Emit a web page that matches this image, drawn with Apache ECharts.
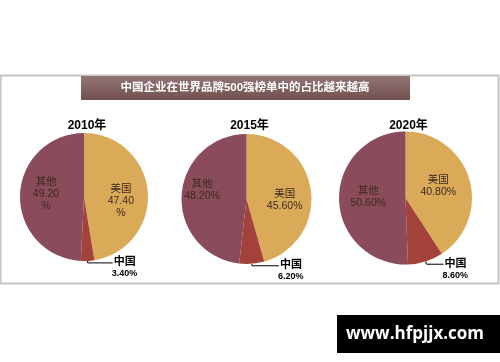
<!DOCTYPE html>
<html><head><meta charset="utf-8">
<script src="https://cdn.jsdelivr.net/npm/echarts@6/dist/echarts.min.js"></script>
<style>html,body{margin:0;padding:0;background:#fff}#c{width:500px;height:362px}</style>
</head><body><div id="c"></div>
<script>
const chartTitle = '中国企业在世界品牌500强榜单中的占比越来越高';
const years = ['2010年', '2015年', '2020年'];
const categories = ['美国', '中国', '其他'];
const usShare = [47.40, 45.60, 40.80];
const chinaShare = [3.40, 6.20, 8.60];
const otherShare = [49.20, 48.20, 50.60];
const watermark = 'www.hfpjjx.com';

const FONT = '"Liberation Sans", Arial, "Noto Sans CJK SC", sans-serif';
const colors = ['#DBAA58', '#A3423A', '#8A4B5B'];
const centers = [[84, 197], [246.5, 199], [405.5, 198]];
const radii = [64, 65, 66.5];
const leader = [[2, 25], [2, 27], [3, 17]];
// label nudges [US, China, Others] per pie
const nudges = [
  [[2, 7], [0, 0], [-3, -2]],
  [[3, 6], [0, 0], [-9, -7]],
  [[-2, -2], [0, 0], [-1, -2]]
];

const chart = echarts.init(document.getElementById('c'), null, {renderer: 'canvas'});

const series = years.map((y, i) => {
  const wrapPct = i === 0;
  const vals = [usShare[i], chinaShare[i], otherShare[i]];
  return {
    type: 'pie',
    center: centers[i],
    radius: radii[i],
    startAngle: 90,
    clockwise: true,
    animation: false,
    silent: true,
    data: categories.map((c, k) => {
      const item = {name: c, value: vals[k], itemStyle: {color: colors[k]}};
      if (k === 1) {
        item.label = {
          position: 'outside',
          formatter: p => '{a|' + p.name + '}\n{b|' + p.value.toFixed(2) + '%}',
          padding: [10, 0, 0, 0],
          distanceToLabelLine: 1,
          rich: {
            a: {fontFamily: FONT, fontSize: 11, fontWeight: 'bold', color: '#000', lineHeight: 12},
            b: {fontFamily: FONT, fontSize: 9, fontWeight: 'bold', color: '#000', lineHeight: 11, padding: [0, 0, 0, -2]}
          }
        };
        item.labelLine = {show: true, length: leader[i][0], length2: leader[i][1], lineStyle: {color: '#000', width: 1}};
      } else {
        item.label = {
          position: 'inside',
          offset: nudges[i][k],
          formatter: p => p.name + '\n' + p.value.toFixed(2) + (wrapPct ? '\n%' : '%'),
          fontFamily: FONT, fontSize: 10.5, color: '#3a2a1e', lineHeight: 12
        };
        item.labelLine = {show: false};
      }
      return item;
    }),
    label: {show: true},
    labelLine: {show: true}
  };
});

chart.setOption({
  backgroundColor: '#ffffff',
  title: years.map((y, i) => ({
    text: y,
    left: centers[i][0] - 2,
    top: 115,
    textAlign: 'center',
    textStyle: {fontFamily: FONT, fontSize: 12, fontWeight: 'bold', color: '#000'}
  })),
  graphic: [
    {type: 'rect', z: -10, shape: {x: 0.5, y: 75.5, width: 498, height: 208}, style: {fill: '#fff', stroke: '#c4c4c4', lineWidth: 2}},
    {type: 'rect', z: -5, shape: {x: 81, y: 76, width: 329, height: 24},
      style: {fill: new echarts.graphic.LinearGradient(0, 0, 0, 1, [{offset: 0, color: '#927675'}, {offset: 1, color: '#72504f'}])}},
    {type: 'text', z: 5, x: 245, y: 88, style: {text: chartTitle, fill: '#fff', font: 'bold 11.5px ' + FONT, textAlign: 'center', textVerticalAlign: 'middle'}},
    {type: 'rect', z: 5, shape: {x: 337, y: 315, width: 163, height: 38}, style: {fill: '#000'}},
    {type: 'text', z: 6, x: 415, y: 334.5, style: {text: watermark, fill: '#fff', font: 'bold 17px "Open Sans", "Liberation Sans", sans-serif', textAlign: 'center', textVerticalAlign: 'middle'}}
  ],
  series: series
});
</script></body></html>
